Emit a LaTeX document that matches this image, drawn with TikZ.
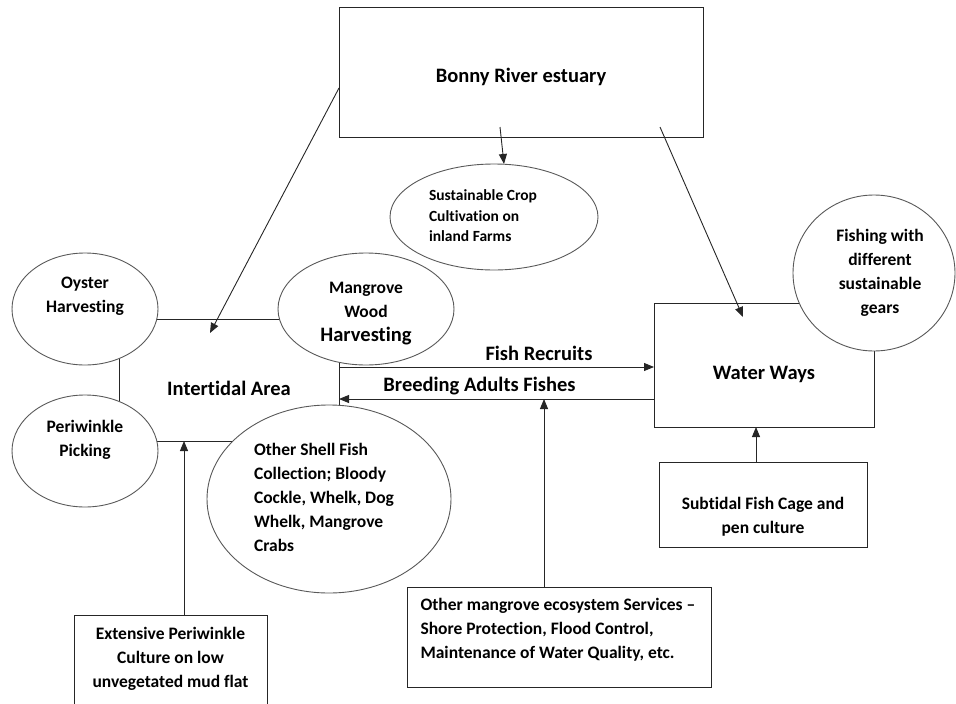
\documentclass[tikz,border=0pt]{standalone}
\usepackage{fontspec}
\setmainfont{Carlito}[Ligatures=NoCommon]
\usetikzlibrary{arrows.meta,shapes.geometric,calc}
\pgfdeclarelayer{bg}
\pgfsetlayers{bg,main}
\begin{document}
\begin{tikzpicture}[x=1pt,y=-1pt,
  every node/.style={inner sep=0pt, outer sep=0pt, text=black},
  body/.style={font=\bfseries\fontsize{17.5}{24}\selectfont},
  big/.style={font=\bfseries\fontsize{20.5}{26}\selectfont},
  small/.style={font=\bfseries\fontsize{15.5}{20.5}\selectfont},
  ell/.style={ellipse, draw=black!65, line width=0.9pt, fill=white},
  box/.style={rectangle, draw=black!85, line width=0.9pt, fill=white},
  conn/.style={draw=black!85, line width=0.9pt},
  arr/.style={conn, -{Triangle[length=10pt,width=8pt]}},
]
\useasboundingbox (0,0) rectangle (956,704);

% boxes
\node[box, minimum width=364pt, minimum height=130pt,
  label={[name=bonny-t, big, yshift=-5pt]center:Bonny River estuary}] (bonny) at (521,72) {};
\node[box, minimum width=220pt, minimum height=124pt,
  label={[name=water-t, big, yshift=-9pt]center:Water Ways}] (water) at (764,365) {};
\node[box, minimum width=208pt, minimum height=85pt,
  label={[name=sub-t, body, align=center, yshift=-12.5pt]center:Subtidal Fish Cage and\\pen culture}] (subtidal) at (763,504.5) {};
\node[box, minimum width=193pt, minimum height=105pt,
  label={[name=ext-t, body, align=center, yshift=8.5pt]center:Extensive Periwinkle\\Culture on low\\unvegetated mud flat}] (ext) at (170.5,667.5) {};
\node[box, minimum width=304pt, minimum height=100pt,
  label={[name=other-t, body, align=left, xshift=-1pt, yshift=7pt]center:Other mangrove ecosystem Services \textendash\\Shore Protection, Flood Control,\\Maintenance of Water Quality, etc.}] (other) at (559,637) {};

% ellipses
\node[ell, minimum width=208pt, minimum height=106pt,
  label={[name=crop-t, small, align=left, xshift=-11pt, yshift=1pt]center:Sustainable Crop\\Cultivation on\\inland Farms}] (crop) at (494,217) {};
\node[ell, minimum width=146pt, minimum height=112pt,
  label={[name=oyster-t, body, align=center, yshift=12.5pt]center:Oyster\\Harvesting}] (oyster) at (85,309) {};
\node[ell, minimum width=176pt, minimum height=112pt,
  label={[name=mang-t, body, align=center, yshift=-5pt]center:Mangrove\\Wood\\\fontsize{20.5}{26}\selectfont Harvesting}] (mangrove) at (366,309) {};
\node[ell, minimum width=146pt, minimum height=112pt,
  label={[name=peri-t, body, align=center, yshift=11pt]center:Periwinkle\\Picking}] (peri) at (85,451) {};
\node[ell, minimum width=244pt, minimum height=188pt,
  label={[name=shell-t, body, align=left, xshift=-5pt, yshift=1.5pt]center:Other Shell Fish\\Collection; Bloody\\Cockle, Whelk, Dog\\Whelk, Mangrove\\Crabs}] (shell) at (329,499) {};
\node[ell, minimum width=162pt, minimum height=156pt,
  label={[name=fish-t, body, align=center, xshift=6pt]center:Fishing with\\different\\sustainable\\gears}] (fishing) at (874,273) {};

\node[big] (inter) at (229,388) {Intertidal Area};

% plain joining lines (behind the ellipses)
\begin{pgfonlayer}{bg}
\draw[conn] ($(oyster.center)+(0,10)$) -- ($(mangrove.center)+(0,10)$);
\draw[conn] ($(oyster.center)+(34,0)$) -- ($(peri.center)+(34,0)$);
\draw[conn] ($(peri.center)+(0,-10)$) -- ($(shell.center)+(0,-58)$);
\draw[conn] ($(mangrove.center)+(-27,30)$) -- ($(shell.center)+(10,-60)$);
\end{pgfonlayer}

% named free ends
\coordinate (ca) at (500,127);
\coordinate (ia) at (210,333);
\coordinate (wa) at (660,127);
\coordinate (wt) at (743,317);
\coordinate (fr) at (339,367);
\coordinate (br) at (339,399);
\coordinate (ob) at (544,399);
\coordinate (eb) at (184,441);
\coordinate (sb) at (756,450);

% arrows
\draw[arr] (ca) -- ([xshift=10pt]crop.north);
\draw[arr] ([yshift=-16pt]bonny.west) -- (ia);
\draw[arr] (wa) -- (wt);
\draw[arr] (fr) -- (fr -| water.west);
\draw[arr] (br -| water.west) -- (br);
\draw[arr] (other.north -| ob) -- (ob);
\draw[arr] (ext.north -| eb) -- (eb);
\draw[arr] (subtidal.north -| sb) -- (water.south -| sb);

\node[big] (fr-t) at (539,353) {Fish Recruits};
\node[big] (br-t) at (479.5,386) {Breeding Adults Fishes};
\end{tikzpicture}
\end{document}
